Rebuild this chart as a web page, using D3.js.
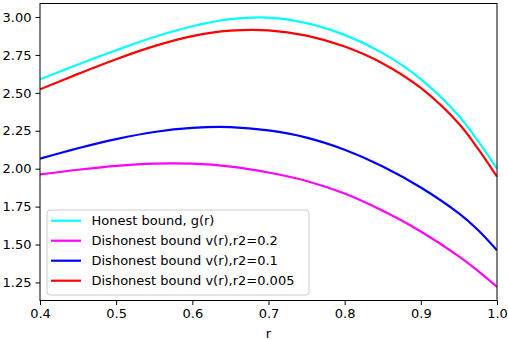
<!DOCTYPE html>
<html>
<head>
<meta charset="utf-8">
<script src="https://cdn.jsdelivr.net/npm/d3@7"></script>
<style>
  html, body { margin: 0; padding: 0; background: #fff; }
  svg { display: block; }
  text { font-family: "DejaVu Sans", sans-serif; }
</style>
</head>
<body>
<svg id="chart" width="508" height="340"></svg>
<script>
// ---- data ----
const seriesNames = [
  "Honest bound, g(r)",
  "Dishonest bound v(r),r2=0.2",
  "Dishonest bound v(r),r2=0.1",
  "Dishonest bound v(r),r2=0.005"
];
const seriesColors = ["#00ffff", "#ff00ff", "#0000ff", "#ff0000"];

const rValues   = [0.40, 0.45, 0.50, 0.55, 0.60, 0.65, 0.70, 0.75, 0.80, 0.85, 0.90, 0.95, 0.975, 1.00];
const vHonest   = [2.589, 2.687, 2.781, 2.868, 2.939, 2.986, 2.996, 2.960, 2.882, 2.762, 2.591, 2.348, 2.183, 2.000];
const vR2_02    = [1.962, 1.993, 2.019, 2.034, 2.033, 2.014, 1.975, 1.919, 1.836, 1.722, 1.586, 1.422, 1.326, 1.220];
const vR2_01    = [2.066, 2.135, 2.195, 2.242, 2.269, 2.274, 2.252, 2.205, 2.125, 2.015, 1.876, 1.705, 1.596, 1.462];
const vR2_0005  = [2.523, 2.625, 2.722, 2.808, 2.874, 2.910, 2.912, 2.877, 2.805, 2.694, 2.532, 2.296, 2.132, 1.947];

const xTicks = [0.4, 0.5, 0.6, 0.7, 0.8, 0.9, 1.0];
const yTicks = [1.25, 1.50, 1.75, 2.00, 2.25, 2.50, 2.75, 3.00];
const xLabel = "r";

// ---- layout ----
const svg = d3.select("#chart");
const mLeft = 40, mRight = 497, mTop = 3.5, mBottom = 300.5;

const x = d3.scaleLinear().domain([0.4, 1.0]).range([mLeft, mRight]);
const y = d3.scaleLinear().domain([1.131, 3.089]).range([mBottom, mTop]);

const series = [
  { name: seriesNames[0], color: seriesColors[0], v: vHonest },
  { name: seriesNames[1], color: seriesColors[1], v: vR2_02 },
  { name: seriesNames[2], color: seriesColors[2], v: vR2_01 },
  { name: seriesNames[3], color: seriesColors[3], v: vR2_0005 }
];

svg.append("defs").append("clipPath").attr("id", "clip")
  .append("rect").attr("x", mLeft).attr("y", mTop).attr("width", mRight - mLeft).attr("height", mBottom - mTop);

const line = d3.line()
  .x(d => x(d[0]))
  .y(d => y(d[1]))
  .curve(d3.curveCatmullRom.alpha(0.5));

const g = svg.append("g").attr("clip-path", "url(#clip)");
series.forEach(s => {
  g.append("path")
    .datum(rValues.map((r, i) => [r, s.v[i]]))
    .attr("fill", "none")
    .attr("stroke", s.color)
    .attr("stroke-width", 2.2)
    .attr("stroke-linejoin", "round")
    .attr("d", line);
});

const xAxis = d3.axisBottom(x).tickValues(xTicks).tickFormat(d3.format(".1f")).tickSize(4.5).tickPadding(4);
const yAxis = d3.axisLeft(y).tickValues(yTicks).tickFormat(d3.format(".2f")).tickSize(4.5).tickPadding(4);

const gx = svg.append("g").attr("transform", `translate(0,${mBottom})`).call(xAxis);
const gy = svg.append("g").attr("transform", `translate(${mLeft},0)`).call(yAxis);
[gx, gy].forEach(ax => {
  ax.select(".domain").remove();
  ax.selectAll("line").attr("stroke", "#000").attr("stroke-width", 1);
  ax.selectAll("text").attr("fill", "#000").style("font-size", "13px").style("font-family", "DejaVu Sans");
});

svg.append("rect")
  .attr("x", mLeft).attr("y", mTop)
  .attr("width", mRight - mLeft).attr("height", mBottom - mTop)
  .attr("fill", "none").attr("stroke", "#000").attr("stroke-width", 1);

svg.append("text")
  .attr("x", (mLeft + mRight) / 2).attr("y", 338)
  .attr("text-anchor", "middle")
  .style("font-size", "13px")
  .text(xLabel);

const lg = svg.append("g");
lg.append("rect")
  .attr("x", 47).attr("y", 210).attr("width", 262).attr("height", 85)
  .attr("rx", 3).attr("ry", 3)
  .attr("fill", "#fff").attr("fill-opacity", 0.8)
  .attr("stroke", "#cccccc").attr("stroke-width", 1);
series.forEach((s, i) => {
  const yy = 220.7 + i * 20;
  lg.append("line")
    .attr("x1", 51).attr("x2", 81).attr("y1", yy).attr("y2", yy)
    .attr("stroke", s.color).attr("stroke-width", 2.2);
  lg.append("text")
    .attr("x", 91.5).attr("y", yy)
    .attr("dominant-baseline", "central")
    .style("font-size", "13px")
    .attr("fill", "#000")
    .text(s.name);
});
</script>
</body>
</html>
